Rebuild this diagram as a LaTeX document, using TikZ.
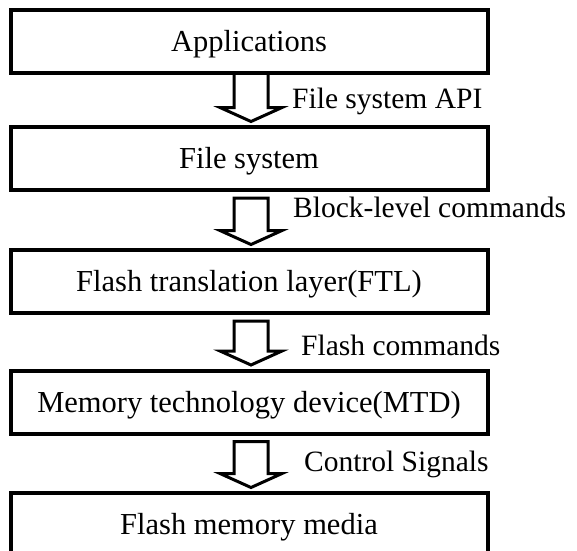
\documentclass[tikz,border=0pt]{standalone}
\usepackage{fontspec}
\setmainfont{Liberation Serif}
\usetikzlibrary{calc}
\begin{document}
\begin{tikzpicture}[x=1pt,y=-1pt,
  layerbox/.style={draw, line width=4pt, minimum width=477pt, minimum height=63pt,
    inner sep=0pt, text height=26pt, text depth=6pt, font=\fontsize{30.5}{35}\selectfont},
  lbl/.style={anchor=base west, inner sep=0pt, font=\fontsize{29.5}{35}\selectfont},
  barrow/.style={draw, line width=3pt, line join=miter}]
\useasboundingbox (0,0) rectangle (577,550);
\clip (0,0) rectangle (577,550);
\node[layerbox] (app)   at (249,41.75) {Applications};
\node[layerbox] (fs)    at (249,158.5) {File system};
\node[layerbox] (ftl)   at (249,281.5) {Flash translation layer(FTL)};
\node[layerbox] (mtd)   at (249,402)   {Memory technology device(MTD)};
\node[layerbox] (media) at (249,524.5) {Flash memory media};
\foreach \a/\b/\g in {app/fs/-2, fs/ftl/6, ftl/mtd/6, mtd/media/6} {
  \draw[barrow] ($(\a.south)+(-15,\g)$) -- ($(\b.north)+(-15,-17.5)$)
    -- ($(\b.north)+(-29,-17.5)$) -- ($(\b.north)+(2,-3.5)$)
    -- ($(\b.north)+(33,-17.5)$) -- ($(\b.north)+(19,-17.5)$)
    -- ($(\a.south)+(19,\g)$) -- cycle;
}
\node[lbl] (api)  at (292,108) {File system API};
\node[lbl] (blk)  at (293,217) {Block-level commands};
\node[lbl] (fcmd) at (301,355) {Flash commands};
\node[lbl] (ctrl) at (304,471) {Control Signals};
\end{tikzpicture}
\end{document}
